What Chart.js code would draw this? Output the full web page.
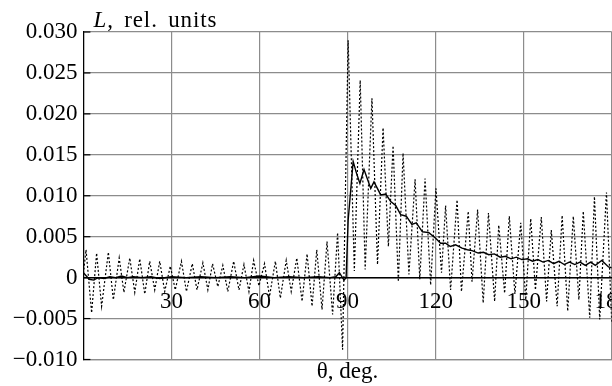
<!DOCTYPE html>
<html><head><meta charset="utf-8">
<script src="https://cdn.jsdelivr.net/npm/chart.js@4/dist/chart.umd.min.js"></script>
<style>
html,body{margin:0;padding:0;background:#fff;overflow:hidden;width:612px;height:386px}
#wrap{position:absolute;left:0;top:0;width:640px;height:386px}
</style></head>
<body><div id="wrap"><canvas id="c" width="640" height="386"></canvas></div>
<script>
// ---- data ----
const xTickValues = [30, 60, 90, 120, 150, 180];
const yTickValues = [-0.010, -0.005, 0, 0.005, 0.010, 0.015, 0.020, 0.025, 0.030];
const xTitle = 'θ, deg.';
const yTitleItalic = 'L';
const yTitleRest = ', rel. units';

// dotted (oscillating) series: angle (deg) and L
const dotAngles = [0, 0.9, 2.8, 4.5, 6.2, 8.5, 10.2, 12.2, 13.8, 15.8,
  17.5, 19.2, 20.9, 22.6, 24.3, 26, 27.7, 29.6, 31.3, 33.4,
  35.1, 37.1, 38.7, 40.7, 42.4, 44, 45.8, 47.5, 49.2, 51.2,
  53, 54.7, 56.4, 58, 59.8, 61.7, 63.4, 65.4, 67.1, 69.1,
  70.8, 72.7, 74.5, 76.2, 77.9, 79.5, 81.3, 83, 84.9, 86.6,
  88.3, 90.2, 92.3, 94.3, 96, 98.3, 100.2, 102.1, 103.9, 105.5,
  107.3, 108.9, 110.9, 113, 114.6, 116.4, 118.3, 120.1, 122, 123.4,
  125.1, 127.3, 128.8, 131.1, 132.4, 134.3, 136.2, 138, 140.1, 141.5,
  143.5, 145.1, 147, 149, 150.7, 152.4, 154, 156, 157.8, 159.4,
  161.4, 163.1, 165, 166.9, 168.8, 170.3, 172.5, 174.1, 175.9, 178.2,
  180];
const dotValues = [0.0005, 0.0034, -0.0043, 0.003, -0.0035, 0.0031, -0.0027, 0.0024, -0.0018, 0.0024,
  -0.0018, 0.0023, -0.002, 0.002, -0.0015, 0.002, -0.0017, 0.0014, -0.0015, 0.002,
  -0.0017, 0.0017, -0.0015, 0.0018, -0.0015, 0.0017, -0.0011, 0.0015, -0.0017, 0.002,
  -0.0015, 0.0016, -0.0017, 0.0021, -0.001, 0.0017, -0.0023, 0.002, -0.0025, 0.0021,
  -0.0017, 0.0024, -0.0029, 0.0029, -0.0035, 0.0034, -0.0039, 0.0044, -0.0045, 0.0055,
  -0.0088, 0.029, 0.0008, 0.0241, 0.001, 0.0219, 0.0016, 0.0183, 0.0038, 0.0161,
  -0.0005, 0.0152, 0.0004, 0.012, -0.0002, 0.0121, -0.0009, 0.0109, 0.0006, 0.0088,
  -0.0015, 0.0095, -0.0017, 0.0081, -0.0005, 0.0083, -0.0031, 0.0079, -0.0029, 0.0064,
  -0.0019, 0.0075, -0.002, 0.0067, -0.0027, 0.0072, -0.0015, 0.0074, -0.0029, 0.0058,
  -0.0035, 0.0076, -0.0041, 0.0075, -0.0027, 0.0081, -0.0049, 0.0099, -0.0051, 0.0104,
  -0.0055];

// solid (averaged) series
const solidAngles = [0, 1, 2, 3.5, 5, 7, 9, 11, 13, 15, 17, 20, 23, 26, 30, 35, 40, 45, 50, 55,
  60, 65, 70, 75, 80, 84, 86, 87.2, 88.8, 89.5, 90.2, 91.9, 93, 94.2, 95.6, 97.9, 99, 101.3, 103, 104.7,
  106.4, 108.1, 110, 111.9, 113.4, 115.5, 117.7, 120, 121.7, 123.4, 125, 126.8, 129, 130.8, 132.4, 134.5, 136.3, 138.1, 140, 142,
  143.8, 145.7, 147.5, 149.4, 151.3, 153, 154.8, 156.6, 158.4, 160.2, 162, 163.8, 165.6, 167.4, 169.2, 171, 172.8, 174.4, 176.6, 178.9,
  180];
const solidValues = [0.0006, 0.0002, -0.0002, -0.0003, 0.0, -0.0001, 0.0001, 0.0, 0.0002, 0.0, 0.0001, 0.0, 0.0001, -0.0001, 0.0001, 0.0, 0.0001, 0.0, 0.0001, 0.0,
  0.0002, 0.0, 0.0001, 0.0, 0.0001, 0.0, 0.0001, 0.0006, -0.0003, 0.0, 0.007, 0.0142, 0.0128, 0.0115, 0.0132, 0.0109, 0.0117, 0.0101, 0.0102, 0.0093,
  0.0088, 0.0077, 0.0075, 0.0065, 0.0067, 0.0056, 0.0055, 0.0048, 0.0042, 0.0042, 0.0038, 0.0040, 0.0036, 0.0034, 0.0033, 0.0030, 0.0031, 0.0028, 0.0029, 0.0025,
  0.0026, 0.0023, 0.0025, 0.0022, 0.0023, 0.0020, 0.0022, 0.0019, 0.0021, 0.0017, 0.0020, 0.0016, 0.0019, 0.0016, 0.0019, 0.0015, 0.0019, 0.0015, 0.0021, 0.0013,
  0.0012];

// ---- chart ----
const FONT = "'Liberation Serif', 'DejaVu Serif', serif";
const FS = 23;
const GRID = '#8c8c8c';

const toPts = (xs, ys) => xs.map((a, i) => ({x: a, y: ys[i]}));

const fmtY = v => {
  if (Math.abs(v) < 1e-9) return '0';
  return (v < 0 ? '\u2212' : '') + Math.abs(v).toFixed(3);
};

const decorPlugin = {
  id: 'decor',
  afterDraw(chart) {
    const ctx = chart.ctx;
    const ys = chart.scales.y;
    const left = chart.chartArea.left;
    ctx.save();
    // inward tick marks on the y axis
    ctx.strokeStyle = '#000';
    ctx.lineWidth = 1.2;
    yTickValues.forEach(v => {
      const p = ys.getPixelForValue(v);
      ctx.beginPath();
      ctx.moveTo(left, p);
      ctx.lineTo(left + 7, p);
      ctx.stroke();
    });
    // y axis title, horizontal at the top
    ctx.fillStyle = '#000';
    ctx.textBaseline = 'alphabetic';
    ctx.textAlign = 'left';
    const x0 = left + 10;
    ctx.font = 'italic ' + FS + 'px ' + FONT;
    const wL = ctx.measureText(yTitleItalic).width;
    ctx.font = FS + 'px ' + FONT;
    const ls = 0.9;
    ctx.letterSpacing = ls + 'px';
    const wR = ctx.measureText(yTitleRest).width;
    const target = 124;
    const nSpaces = (yTitleRest.match(/ /g) || []).length;
    const extra = Math.max(0, (target - wL - wR - 1) / nSpaces);
    ctx.letterSpacing = '0px';
    ctx.font = 'italic ' + FS + 'px ' + FONT;
    ctx.fillText(yTitleItalic, x0, 27);
    ctx.font = FS + 'px ' + FONT;
    ctx.letterSpacing = ls + 'px';
    ctx.wordSpacing = extra.toFixed(2) + 'px';
    ctx.fillText(yTitleRest, x0 + wL + 1, 27);
    ctx.wordSpacing = '0px';
    ctx.letterSpacing = '0px';
    ctx.restore();
  }
};

new Chart(document.getElementById('c'), {
  type: 'line',
  data: {
    datasets: [
      {
        label: 'L (dotted)',
        data: toPts(dotAngles, dotValues),
        borderColor: '#000',
        borderWidth: 1.2,
        borderDash: [2, 2],
        pointRadius: 0,
        tension: 0,
        xAxisID: 'x', yAxisID: 'y'
      },
      {
        label: 'L (solid)',
        data: toPts(solidAngles, solidValues),
        borderColor: '#000',
        borderWidth: 1.4,
        pointRadius: 0,
        tension: 0,
        xAxisID: 'x', yAxisID: 'y'
      }
    ]
  },
  options: {
    responsive: false,
    animation: false,
    devicePixelRatio: 1,
    layout: {padding: {left: 0, right: 27, top: 32, bottom: 0}},
    plugins: {legend: {display: false}, tooltip: {enabled: false}, title: {display: false}},
    scales: {
      x: {
        type: 'linear', axis: 'x', min: 0, max: 180, position: 'bottom',
        afterBuildTicks: s => { s.ticks = [0].concat(xTickValues).map(v => ({value: v})); },
        ticks: {display: false},
        grid: {color: GRID, lineWidth: 1.2, drawTicks: false},
        border: {color: GRID, width: 1.2},
        title: {display: true, text: xTitle, color: '#000', font: {family: FONT, size: FS}, padding: {top: 0, bottom: 0}},
        afterFit: s => { s.height = 26.5; }
      },
      x2: {
        type: 'linear', axis: 'x', min: 0, max: 180, position: {y: 0},
        afterBuildTicks: s => { s.ticks = [0].concat(xTickValues).map(v => ({value: v})); },
        ticks: {color: '#000', font: {family: FONT, size: FS}, padding: 11, maxRotation: 0, autoSkip: false,
                callback: v => (v === 0 ? '' : String(v))},
        grid: {display: false, drawTicks: false},
        border: {color: '#000', width: 1.5}
      },
      y: {
        type: 'linear', axis: 'y', min: -0.010, max: 0.030, position: 'left',
        afterBuildTicks: s => { s.ticks = yTickValues.map(v => ({value: v})); },
        ticks: {color: '#000', font: {family: FONT, size: FS}, padding: 6, callback: v => fmtY(v)},
        grid: {color: GRID, lineWidth: 1.2, drawTicks: false},
        border: {color: '#000', width: 1.2},
        afterFit: s => { s.width = 83.4; }
      }
    }
  },
  plugins: [decorPlugin]
});
</script>
</body></html>
